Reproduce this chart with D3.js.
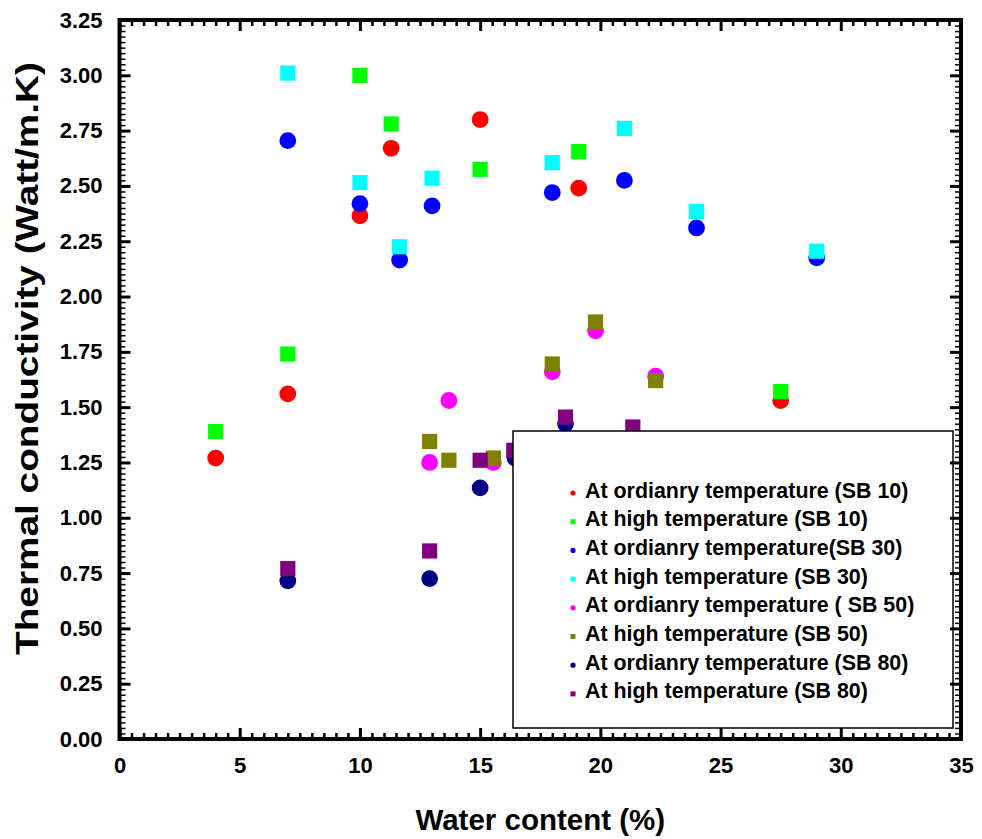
<!DOCTYPE html>
<html><head><meta charset="utf-8">
<script src="https://cdn.jsdelivr.net/npm/d3@7"></script>
<style>
body{margin:0;background:#fff}
text{font-family:"Liberation Sans",Arial,sans-serif;font-weight:bold;fill:#000}
</style>
</head><body><svg id="c" width="982" height="839"></svg>
<script>
// ---- data ----
const seriesNames = [
  "At ordianry temperature (SB 10)",
  "At high temperature (SB 10)",
  "At ordianry temperature(SB 30)",
  "At high temperature (SB 30)",
  "At ordianry temperature ( SB 50)",
  "At high temperature (SB 50)",
  "At ordianry temperature (SB 80)",
  "At high temperature (SB 80)"
];
const seriesColors = ["#ff0000","#00ff00","#0000ff","#00ffff","#ff00ff","#808000","#000080","#800080"];
const seriesShapes = ["circle","square","circle","square","circle","square","circle","square"];

const sb10OrdX = [4, 7, 10, 11.3, 15, 19.1, 27.5];
const sb10OrdY = [1.27, 1.56, 2.365, 2.67, 2.80, 2.49, 1.53];
const sb10HighX = [4, 7, 10, 11.3, 15, 19.1, 27.5];
const sb10HighY = [1.39, 1.74, 3.00, 2.78, 2.575, 2.655, 1.57];
const sb30OrdX = [7, 10, 11.65, 13, 18, 21, 24, 29];
const sb30OrdY = [2.705, 2.42, 2.165, 2.41, 2.47, 2.525, 2.31, 2.175];
const sb30HighX = [7, 10, 11.65, 13, 18, 21, 24, 29];
const sb30HighY = [3.01, 2.515, 2.225, 2.535, 2.605, 2.76, 2.385, 2.205];
const sb50OrdX = [12.9, 13.7, 15.55, 18, 19.8, 22.3];
const sb50OrdY = [1.25, 1.53, 1.25, 1.66, 1.845, 1.64];
const sb50HighX = [12.9, 13.7, 15.55, 18, 19.8, 22.3];
const sb50HighY = [1.345, 1.26, 1.27, 1.695, 1.885, 1.62];
const sb80OrdX = [7, 12.9, 15, 16.45, 18.55];
const sb80OrdY = [0.715, 0.725, 1.135, 1.27, 1.425];
const sb80HighX = [7, 12.9, 15, 16.4, 18.55, 21.35];
const sb80HighY = [0.77, 0.85, 1.26, 1.305, 1.455, 1.41];

const xMajorTicks = [0, 5, 10, 15, 20, 25, 30, 35];
const yMajorTicks = [0, 0.25, 0.5, 0.75, 1.0, 1.25, 1.5, 1.75, 2.0, 2.25, 2.5, 2.75, 3.0, 3.25];
const xTitle = "Water content (%)";
const yTitle = "Thermal conductivity (Watt/m.K)";

const seriesX = [sb10OrdX, sb10HighX, sb30OrdX, sb30HighX, sb50OrdX, sb50HighX, sb80OrdX, sb80HighX];
const seriesY = [sb10OrdY, sb10HighY, sb30OrdY, sb30HighY, sb50OrdY, sb50HighY, sb80OrdY, sb80HighY];

// ---- layout ----
const L = 119.5, R = 961, T = 20, B = 739;
const svg = d3.select("#c");
const x = d3.scaleLinear().domain([0, 35]).range([L, R]);
const y = d3.scaleLinear().domain([0, 3.25]).range([B, T]);

const xMinor = d3.range(0, 35.001, 0.5).filter(v => Math.abs(v/5 - Math.round(v/5)) > 1e-6);
const yMinor = d3.range(0, 3.2501, 0.025).filter(v => Math.abs(v/0.25 - Math.round(v/0.25)) > 1e-6);

// points
const plot = svg.append("g");
seriesX.forEach((xs, i) => {
  const pts = xs.map((v, j) => [v, seriesY[i][j]]);
  if (seriesShapes[i] === "circle") {
    plot.selectAll(null).data(pts).enter().append("circle")
      .attr("cx", d => x(d[0])).attr("cy", d => y(d[1])).attr("r", 8.4)
      .attr("fill", seriesColors[i]);
  } else {
    plot.selectAll(null).data(pts).enter().append("rect")
      .attr("x", d => x(d[0]) - 7.6).attr("y", d => y(d[1]) - 7.6)
      .attr("width", 15.2).attr("height", 15.2)
      .attr("fill", seriesColors[i]);
  }
});

// legend
const lg = svg.append("g");
lg.append("rect").attr("x", 513).attr("y", 431).attr("width", 440).attr("height", 297)
  .attr("fill", "#fff").attr("stroke", "#000").attr("stroke-width", 1.5);
seriesNames.forEach((name, i) => {
  const cy = 493 + i * 28.7;
  if (seriesShapes[i] === "circle") {
    lg.append("circle").attr("cx", 573).attr("cy", cy).attr("r", 2.6).attr("fill", seriesColors[i]);
  } else {
    lg.append("rect").attr("x", 570.5).attr("y", cy - 2.5).attr("width", 5).attr("height", 5).attr("fill", seriesColors[i]);
  }
  lg.append("text").attr("x", 585).attr("y", cy + 4.5).attr("font-size", 21.4).text(name);
});

// axes
function styleAxis(g, w) {
  g.select(".domain").remove();
  g.selectAll(".tick line").attr("stroke", "#000").attr("stroke-width", w);
  g.selectAll("text").attr("font-size", 22).attr("font-family", '"Liberation Sans",Arial,sans-serif').attr("font-weight", "bold");
}
// bottom
svg.append("g").attr("transform", `translate(0,${B})`)
  .call(d3.axisBottom(x).tickValues(xMinor).tickSize(-6).tickFormat(""))
  .call(g => styleAxis(g, 2.5));
svg.append("g").attr("transform", `translate(0,${B})`)
  .call(d3.axisBottom(x).tickValues(xMajorTicks).tickSize(-11).tickPadding(18).tickFormat(d3.format("d")))
  .call(g => styleAxis(g, 3));
// top
svg.append("g").attr("transform", `translate(0,${T})`)
  .call(d3.axisTop(x).tickValues(xMinor).tickSize(-6).tickFormat(""))
  .call(g => styleAxis(g, 2.5));
svg.append("g").attr("transform", `translate(0,${T})`)
  .call(d3.axisTop(x).tickValues(xMajorTicks).tickSize(-11).tickFormat(""))
  .call(g => styleAxis(g, 3));
// left
svg.append("g").attr("transform", `translate(${L},0)`)
  .call(d3.axisLeft(y).tickValues(yMinor).tickSize(-6).tickFormat(""))
  .call(g => styleAxis(g, 1.5));
svg.append("g").attr("transform", `translate(${L},0)`)
  .call(d3.axisLeft(y).tickValues(yMajorTicks).tickSize(-11).tickPadding(17).tickFormat(d3.format(".2f")))
  .call(g => styleAxis(g, 3));
// right
svg.append("g").attr("transform", `translate(${R},0)`)
  .call(d3.axisRight(y).tickValues(yMinor).tickSize(-6).tickFormat(""))
  .call(g => styleAxis(g, 1.5));
svg.append("g").attr("transform", `translate(${R},0)`)
  .call(d3.axisRight(y).tickValues(yMajorTicks).tickSize(-11).tickFormat(""))
  .call(g => styleAxis(g, 3));

// frame
svg.append("rect").attr("x", L).attr("y", T).attr("width", R - L).attr("height", B - T)
  .attr("fill", "none").attr("stroke", "#000").attr("stroke-width", 4);

// titles
svg.append("text").attr("x", (L + R) / 2).attr("y", 830).attr("text-anchor", "middle")
  .attr("font-size", 29.5).text(xTitle);
svg.append("text").attr("transform", `translate(38,${(62 + 655) / 2}) rotate(-90)`)
  .attr("text-anchor", "middle").attr("font-size", 31)
  .attr("textLength", 593).attr("lengthAdjust", "spacingAndGlyphs").text(yTitle);
</script>
</body></html>
